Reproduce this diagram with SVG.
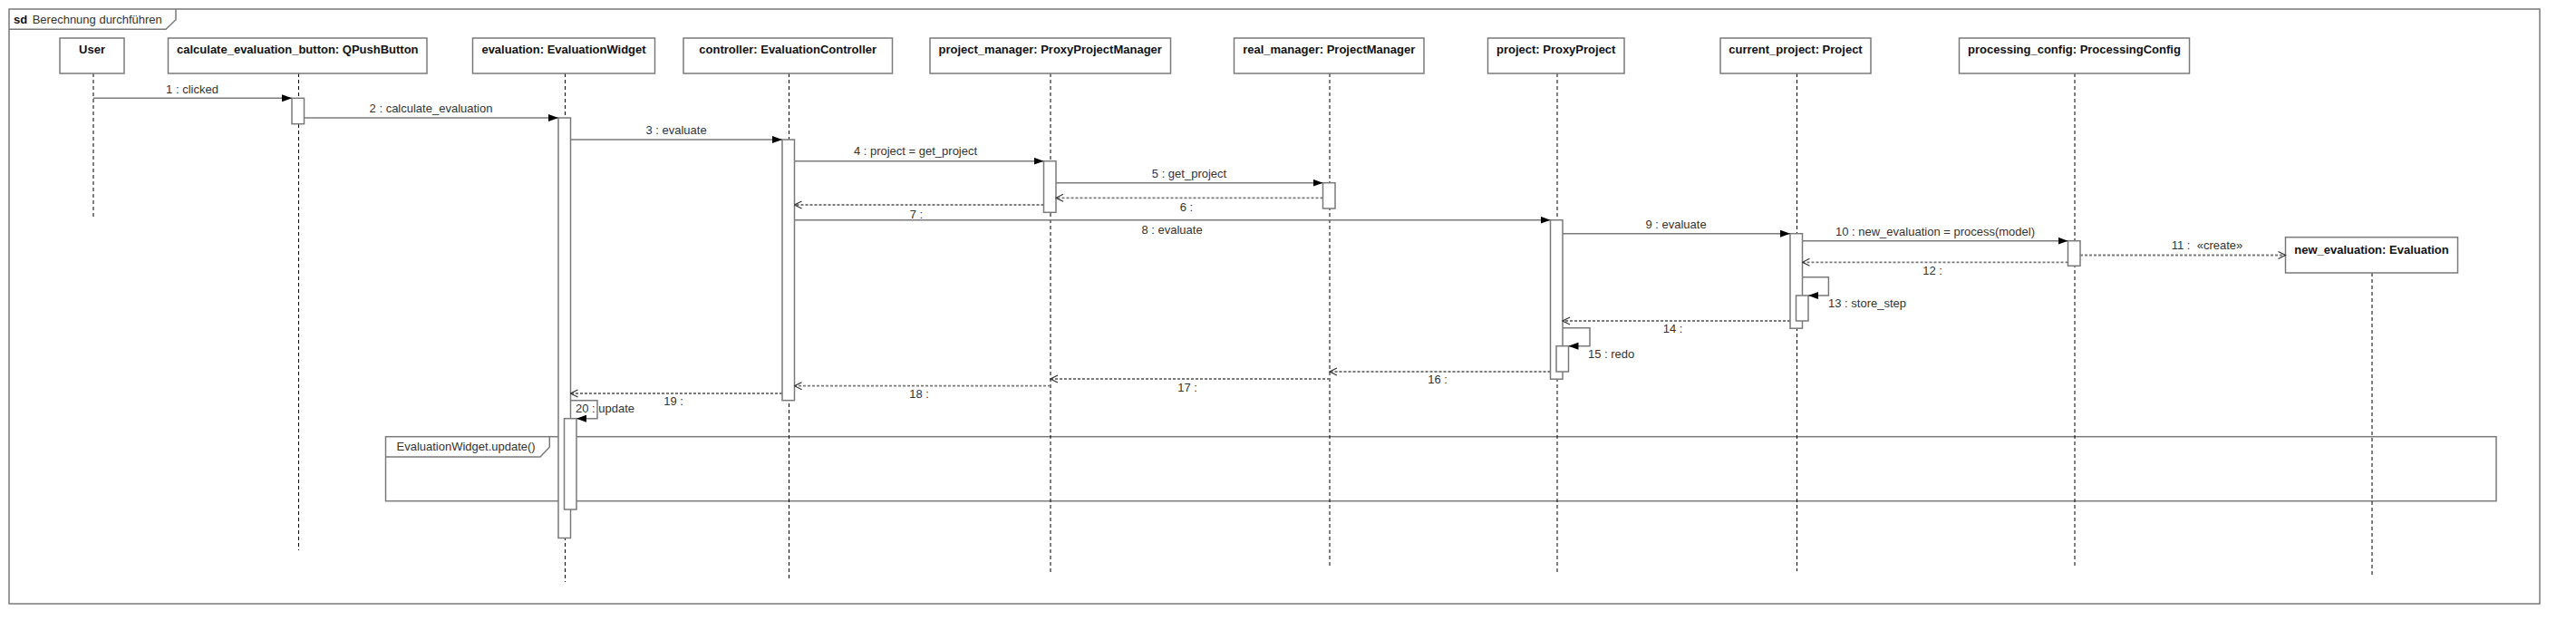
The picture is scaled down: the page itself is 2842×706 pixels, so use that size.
<svg xmlns="http://www.w3.org/2000/svg" width="2842" height="706" viewBox="0 0 2842 706">
<style>
text{font-family:"Liberation Sans",Arial,sans-serif;font-size:13px}
.hd{font-weight:bold;fill:#111;text-anchor:middle}
.lb{fill:#333}
.c{text-anchor:middle}
.box{fill:#fff;stroke:#7a7a7a;stroke-width:1.5}
.act{fill:#fff;stroke:#7a7a7a;stroke-width:1.5}
.life{stroke:#000;stroke-width:1;stroke-dasharray:4 3;fill:none}
.frame{fill:none;stroke:#7a7a7a;stroke-width:1.5}
.msg{fill:none;stroke:#7a7a7a;stroke-width:1.5;marker-end:url(#fa)}
.ret{fill:none;stroke:#7a7a7a;stroke-width:1.8;stroke-dasharray:3 2;marker-end:url(#oa)}
</style>
<defs>
<marker id="fa" viewBox="0 0 11 8" refX="11" refY="4" markerWidth="11" markerHeight="8" orient="auto" markerUnits="userSpaceOnUse"><path d="M0,0 L11,4 L0,8 z" fill="#000"/></marker>
<marker id="oa" viewBox="0 0 10 10" refX="9" refY="5" markerWidth="10" markerHeight="10" orient="auto" markerUnits="userSpaceOnUse"><path d="M1,1 L9,5 L1,9" fill="none" stroke="#333" stroke-width="1.2"/></marker>
</defs>
<rect width="2842" height="706" fill="#fff"/>
<g id="frame">
<rect class="frame" x="10" y="10" width="2792" height="656"/>
<path class="frame" d="M10,32.3 H183 L194,21.7 V10"/>
<text x="15" y="25.5" style="font-weight:bold" fill="#111">sd</text>
<text x="35.7" y="25.5" fill="#333">Berechnung durchführen</text>
</g>
<g id="fragment">
<rect class="frame" x="425.5" y="481.7" width="2328.5" height="71"/>
<path class="frame" d="M425.5,504 H596 L606.3,493.3 V481.7"/>
<text x="437.5" y="496.7" fill="#333">EvaluationWidget.update()</text>
</g>
<g id="user">
<line class="life" x1="103" y1="81" x2="103" y2="242"/>
<rect class="box" x="66" y="42" width="71" height="39"/>
<text class="hd" x="101.5" y="59.3">User</text>
</g>
<g id="calculate_evaluation_button">
<line class="life" x1="329.5" y1="81" x2="329.5" y2="607"/>
<rect class="box" x="185.5" y="42" width="285.5" height="39"/>
<text class="hd" x="328.3" y="59.3">calculate_evaluation_button: QPushButton</text>
<rect class="act" x="322" y="108.3" width="13.5" height="28.4"/>
</g>
<g id="evaluation">
<line class="life" x1="623.5" y1="81" x2="623.5" y2="642"/>
<rect class="box" x="521.5" y="42" width="201" height="39"/>
<text class="hd" x="622" y="59.3">evaluation: EvaluationWidget</text>
<rect class="act" x="616" y="130" width="13.5" height="463.5"/>
<rect class="act" x="622.5" y="461.7" width="13.5" height="100.3"/>
</g>
<g id="controller">
<line class="life" x1="870.5" y1="81" x2="870.5" y2="640"/>
<rect class="box" x="754" y="42" width="230.5" height="39"/>
<text class="hd" x="869.2" y="59.3">controller: EvaluationController</text>
<rect class="act" x="863" y="154" width="13.5" height="287.7"/>
</g>
<g id="project_manager">
<line class="life" x1="1159" y1="81" x2="1159" y2="631"/>
<rect class="box" x="1026" y="42" width="265.5" height="39"/>
<text class="hd" x="1158.7" y="59.3">project_manager: ProxyProjectManager</text>
<rect class="act" x="1151.5" y="177.7" width="13.5" height="56.6"/>
</g>
<g id="real_manager">
<line class="life" x1="1467" y1="81" x2="1467" y2="625"/>
<rect class="box" x="1361.5" y="42" width="209.5" height="39"/>
<text class="hd" x="1466.2" y="59.3">real_manager: ProjectManager</text>
<rect class="act" x="1459.5" y="201.7" width="13.5" height="28.3"/>
</g>
<g id="project">
<line class="life" x1="1718" y1="81" x2="1718" y2="631"/>
<rect class="box" x="1641.5" y="42" width="150.5" height="39"/>
<text class="hd" x="1716.7" y="59.3">project: ProxyProject</text>
<rect class="act" x="1710.5" y="242.7" width="13.5" height="175.5"/>
<rect class="act" x="1717" y="381.7" width="13.5" height="28.3"/>
</g>
<g id="current_project">
<line class="life" x1="1982.5" y1="81" x2="1982.5" y2="630"/>
<rect class="box" x="1898" y="42" width="166" height="39"/>
<text class="hd" x="1981" y="59.3">current_project: Project</text>
<rect class="act" x="1975" y="257.7" width="13.5" height="104.5"/>
<rect class="act" x="1981.5" y="326" width="13.5" height="28"/>
</g>
<g id="processing_config">
<line class="life" x1="2289" y1="81" x2="2289" y2="625"/>
<rect class="box" x="2161.5" y="42" width="254" height="39"/>
<text class="hd" x="2288.5" y="59.3">processing_config: ProcessingConfig</text>
<rect class="act" x="2281.5" y="265.7" width="13.5" height="27.6"/>
</g>
<g id="new_evaluation">
<line class="life" x1="2617" y1="301" x2="2617" y2="635"/>
<rect class="box" x="2521.5" y="261.7" width="190" height="39.3"/>
<text class="hd" x="2616.5" y="279.5">new_evaluation: Evaluation</text>
</g>
<g id="connectors">
<line class="msg" x1="103" y1="108.3" x2="322" y2="108.3"/>
<line class="msg" x1="335.5" y1="130" x2="616" y2="130"/>
<line class="msg" x1="629.5" y1="154" x2="863" y2="154"/>
<line class="msg" x1="876.5" y1="177.7" x2="1151.5" y2="177.7"/>
<line class="msg" x1="1165" y1="201.7" x2="1459.5" y2="201.7"/>
<line class="ret" x1="1459.5" y1="218.3" x2="1165" y2="218.3"/>
<line class="ret" x1="1151.5" y1="226" x2="876.5" y2="226"/>
<line class="msg" x1="876.5" y1="242.7" x2="1710.5" y2="242.7"/>
<line class="msg" x1="1724" y1="257.7" x2="1975" y2="257.7"/>
<line class="msg" x1="1988.5" y1="265.7" x2="2281.5" y2="265.7"/>
<line class="ret" x1="2295" y1="281.5" x2="2521.5" y2="281.5"/>
<line class="ret" x1="2281.5" y1="289.3" x2="1988.5" y2="289.3"/>
<path class="msg" d="M1988.5,305.7 H2017.4 V326 H1995"/>
<line class="ret" x1="1975" y1="354" x2="1724" y2="354"/>
<path class="msg" d="M1724,361.7 H1754 V381.7 H1730.5"/>
<line class="ret" x1="1710.5" y1="410" x2="1467" y2="410"/>
<line class="ret" x1="1467" y1="418" x2="1159" y2="418"/>
<line class="ret" x1="1159" y1="425.7" x2="876.5" y2="425.7"/>
<line class="ret" x1="863" y1="434" x2="629.5" y2="434"/>
<path class="msg" d="M629.5,441.7 H659 V461.7 H636"/>
<text class="lb c" x="212" y="103">1 : clicked</text>
<text class="lb c" x="475.5" y="123.5">2 : calculate_evaluation</text>
<text class="lb c" x="746" y="148">3 : evaluate</text>
<text class="lb c" x="1010" y="171">4 : project = get_project</text>
<text class="lb c" x="1312" y="196">5 : get_project</text>
<text class="lb c" x="1309" y="233">6 :</text>
<text class="lb c" x="1011" y="240.7">7 :</text>
<text class="lb c" x="1293" y="258.3">8 : evaluate</text>
<text class="lb c" x="1849" y="251.7">9 : evaluate</text>
<text class="lb c" x="2135" y="260">10 : new_evaluation = process(model)</text>
<text class="lb c" x="2435" y="275">11 :&#160; «create»</text>
<text class="lb c" x="2132" y="303">12 :</text>
<text class="lb" x="2017" y="339.3">13 : store_step</text>
<text class="lb c" x="1845.5" y="366.7">14 :</text>
<text class="lb" x="1752" y="395">15 : redo</text>
<text class="lb c" x="1586" y="422.7">16 :</text>
<text class="lb c" x="1310" y="431.7">17 :</text>
<text class="lb c" x="1014" y="439.3">18 :</text>
<text class="lb c" x="743" y="446.7">19 :</text>
<text class="lb" x="635" y="455">20 : update</text>
</g>
</svg>
